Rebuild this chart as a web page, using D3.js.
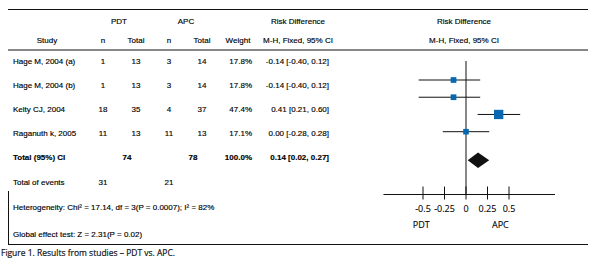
<!DOCTYPE html>
<html>
<head>
<meta charset="utf-8">
<script src="https://cdn.jsdelivr.net/npm/d3@7"></script>
<style>
  body { margin: 0; background: #fff; }
  text { font-family: "Liberation Sans", Arial, sans-serif; font-size: 8px; fill: #000; stroke: #000; stroke-width: 0.15px; }
  .bold { font-weight: bold; }
  .axis text { font-family: "Open Sans", sans-serif; font-size: 9px; fill: #000; stroke-width: 0.1px; }
  .caption { font-family: "Open Sans", sans-serif; font-size: 9.5px; fill: #111; stroke: #111; stroke-width: 0.2px; }
</style>
</head>
<body>
<svg id="mainsvg" width="596" height="268"></svg>
<script>
const svg = d3.select('#mainsvg');
const width = +svg.attr('width');
const height = +svg.attr('height');

// table data
const studies = ["Hage M, 2004 (a)", "Hage M, 2004 (b)", "Kelty CJ, 2004", "Raganuth k, 2005"];
const pdtEvents = [1, 1, 18, 11];
const pdtTotal = [13, 13, 35, 13];
const apcEvents = [3, 3, 4, 11];
const apcTotal = [14, 14, 37, 13];
const weights = [17.8, 17.8, 47.4, 17.1];
const riskDiff = [-0.14, -0.14, 0.41, 0.00];
const ciLow = [-0.40, -0.40, 0.21, -0.28];
const ciHigh = [0.12, 0.12, 0.60, 0.28];

// as drawn in the forest plot
const plotEst = [-0.145, -0.145, 0.38, 0.0];
const plotLow = [-0.55, -0.55, 0.135, -0.27];
const plotHigh = [0.165, 0.165, 0.63, 0.27];

const totalPdt = 74, totalApc = 78, totalWeight = 100.0;
const totalRd = 0.14, totalLow = 0.02, totalHigh = 0.27;
const eventsPdt = 31, eventsApc = 21;
const heterogeneity = "Heterogeneity: Chi² = 17.14, df = 3(P = 0.0007); I² = 82%";
const globalTest = "Global effect test: Z = 2.31(P = 0.02)";

const ticks = [-0.5, -0.25, 0, 0.25, 0.5];
const tickLabels = ["-0.5", "-0.25", "0", "0.25", "0.5"];
const favours = ["PDT", "APC"];

// plain hyphen for negatives, as in the figure
const locale = d3.formatLocale({ decimal: ".", thousands: ",", grouping: [3], currency: ["", ""], minus: "-" });
const fmt2 = locale.format(".2f");
const fmt1 = locale.format(".1f");
const ciText = (m, lo, hi) => `${fmt2(m)} [${fmt2(lo)}, ${fmt2(hi)}]`;

// columns
const col = { study: 13, pdtN: 103, pdtT: 136, apcN: 169, apcT: 202, weight: 252, ci: 329, ciHead: 298, plotHead: 464 };

// table rows
const yRow = d3.scaleLinear().domain([0, 1]).range([61, 85.3]);

// rules
const line = (x1, y1, x2, y2) => svg.append('line')
  .attr('x1', x1).attr('y1', y1).attr('x2', x2).attr('y2', y2)
  .attr('stroke', '#111').attr('stroke-width', 1);
line(8, 9.5, 588, 9.5);
line(8, 50, 588, 50);
line(8, 244.5, 588, 244.5);
line(8.5, 191, 8.5, 244.5);

// headers
const head = svg.append('g');
const htext = (x, y, t, anchor = 'middle') => head.append('text')
  .attr('x', x).attr('y', y).attr('text-anchor', anchor)
  .attr('dominant-baseline', 'central').text(t);
htext(119, 21, "PDT");
htext(186, 21, "APC");
htext(col.ciHead, 21, "Risk Difference");
htext(col.plotHead, 21, "Risk Difference");
htext(47, 40, "Study");
htext(col.pdtN, 40, "n");
htext(col.pdtT, 40, "Total");
htext(col.apcN, 40, "n");
htext(col.apcT, 40, "Total");
htext(238, 40, "Weight");
htext(col.ciHead, 40, "M-H, Fixed, 95% CI");
htext(col.plotHead, 40, "M-H, Fixed, 95% CI");

// study rows
const rows = svg.append('g');
const cell = (x, y, t, anchor = 'middle', cls = null) => rows.append('text')
  .attr('x', x).attr('y', y).attr('text-anchor', anchor)
  .attr('dominant-baseline', 'central').attr('class', cls).text(t);

studies.forEach((s, i) => {
  const y = yRow(i);
  cell(col.study, y, s, 'start');
  cell(col.pdtN, y, pdtEvents[i]);
  cell(col.pdtT, y, pdtTotal[i]);
  cell(col.apcN, y, apcEvents[i]);
  cell(col.apcT, y, apcTotal[i]);
  cell(col.weight, y, fmt1(weights[i]) + "%", 'end');
  cell(col.ci, y, ciText(riskDiff[i], ciLow[i], ciHigh[i]), 'end');
});

const yTot = yRow(4) - 1;
cell(col.study, yTot, "Total (95%) CI", 'start', 'bold');
cell(127, yTot, totalPdt, 'middle', 'bold');
cell(193, yTot, totalApc, 'middle', 'bold');
cell(col.weight, yTot, fmt1(totalWeight) + "%", 'end', 'bold');
cell(col.ci, yTot, ciText(totalRd, totalLow, totalHigh), 'end', 'bold');

const yEv = yRow(5);
cell(col.study, yEv, "Total of events", 'start');
cell(col.pdtN, yEv, eventsPdt);
cell(col.apcN, yEv, eventsApc);

cell(col.study, yRow(6) + 0.5, heterogeneity, 'start');
cell(col.study, yRow(7.12), globalTest, 'start');

// forest plot
const x = d3.scaleLinear().domain([-1, 1]).range([380, 552]);
const yPlot = d3.scaleLinear().domain([0, 3]).range([80, 131.7]);
const size = d3.scaleSqrt().domain([0, d3.max(weights)]).range([0, 9.3]);
const axisY = 194.5;

const plot = svg.append('g');
plot.append('line')
  .attr('x1', x(0)).attr('x2', x(0)).attr('y1', 61).attr('y2', axisY)
  .attr('stroke', '#111').attr('stroke-width', 1);

const g = plot.selectAll('.study').data(studies).join('g').attr('class', 'study');
g.append('line')
  .attr('x1', (d, i) => x(plotLow[i])).attr('x2', (d, i) => x(plotHigh[i]))
  .attr('y1', (d, i) => yPlot(i)).attr('y2', (d, i) => yPlot(i))
  .attr('stroke', '#111').attr('stroke-width', 1);
g.append('rect')
  .attr('x', (d, i) => x(plotEst[i]) - size(weights[i]) / 2)
  .attr('y', (d, i) => yPlot(i) - size(weights[i]) / 2)
  .attr('width', (d, i) => size(weights[i]))
  .attr('height', (d, i) => size(weights[i]))
  .attr('fill', '#0568b0');

const yDia = yPlot(4.66);
plot.append('path')
  .attr('d', `M${x(totalLow)},${yDia} L${x(totalRd)},${yDia - 7.8} L${x(totalHigh)},${yDia} L${x(totalRd)},${yDia + 7.8} Z`)
  .attr('fill', '#111');

// axis
const axis = plot.append('g').attr('class', 'axis');
axis.append('line')
  .attr('x1', x(-0.96)).attr('x2', x(1.035)).attr('y1', axisY).attr('y2', axisY)
  .attr('stroke', '#111').attr('stroke-width', 1);
axis.selectAll('.tick').data(ticks).join('line').attr('class', 'tick')
  .attr('x1', d => x(d)).attr('x2', d => x(d))
  .attr('y1', axisY - 8).attr('y2', axisY + 5)
  .attr('stroke', '#111').attr('stroke-width', 1);
axis.selectAll('.tlabel').data(ticks).join('text').attr('class', 'tlabel')
  .attr('x', d => x(d)).attr('y', 208.5)
  .attr('text-anchor', 'middle').attr('dominant-baseline', 'central')
  .text((d, i) => tickLabels[i]);
axis.selectAll('.fav').data(favours).join('text').attr('class', 'fav')
  .attr('x', (d, i) => x(i === 0 ? -0.52 : 0.40)).attr('y', 224)
  .attr('text-anchor', 'middle').attr('dominant-baseline', 'central')
  .text(d => d);

// caption
svg.append('text').attr('class', 'caption')
  .attr('x', 1).attr('y', 255.5)
  .attr('textLength', 174).attr('lengthAdjust', 'spacingAndGlyphs')
  .text("Figure 1. Results from studies – PDT vs. APC.");
</script>
</body>
</html>
